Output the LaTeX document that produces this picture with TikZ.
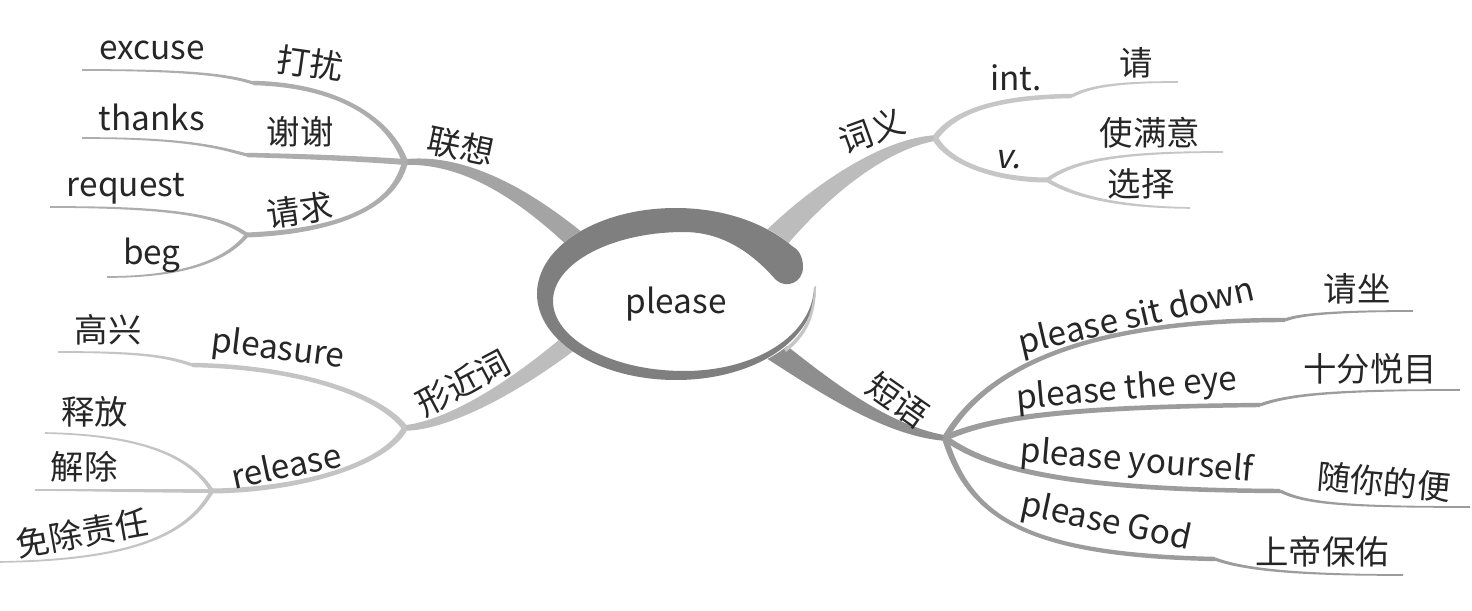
\documentclass[tikz,border=0pt]{standalone}
\usepackage{fontspec}
\setmainfont{Noto Sans CJK SC}[AutoFakeSlant=0.2]
\usetikzlibrary{calc}
\definecolor{txtc}{HTML}{262626}
\definecolor{ringc}{HTML}{7F7F7F}
\definecolor{cam}{HTML}{A4A4A4}
\definecolor{cas}{HTML}{ADADAD}
\definecolor{cbm}{HTML}{BDBDBD}
\definecolor{cbs}{HTML}{C4C4C4}
\definecolor{ccm}{HTML}{BCBCBC}
\definecolor{ccs}{HTML}{C6C6C6}
\definecolor{cdm}{HTML}{8E8E8E}
\definecolor{cds}{HTML}{9C9C9C}
% #1 colour, #2 start, #3 control 1, #4 control 2, #5 end, #6 half width at start (px), #7 half width at end (px)
\newcommand\taper[7]{%
  \pgfmathsetmacro\tpA{#6*0.02}%
  \pgfmathsetmacro\tpB{(2*#6+#7)/3*0.02}%
  \pgfmathsetmacro\tpC{(#6+2*#7)/3*0.02}%
  \pgfmathsetmacro\tpD{#7*0.02}%
  \fill[#1] ($(#2)!\tpA cm!90:(#3)$) .. controls ($(#3)!\tpB cm!-90:(#2)$) and ($(#4)!\tpC cm!90:(#5)$) .. ($(#5)!\tpD cm!-90:(#4)$)
     -- ($(#5)!\tpD cm!90:(#4)$) .. controls ($(#4)!\tpC cm!-90:(#5)$) and ($(#3)!\tpB cm!90:(#2)$) .. ($(#2)!\tpA cm!-90:(#3)$) -- cycle;
}
\tikzset{lbl/.style={font=\fontsize{19}{22}\selectfont, text=txtc, inner sep=0pt}}
\begin{document}
\begin{tikzpicture}[x=0.02cm, y=-0.02cm]
\useasboundingbox (0,0) rectangle (1472,611);
\fill[white] (0,0) rectangle (1472,611);
% ---------- coordinates
\coordinate (J1) at (405,162);
\coordinate (S1) at (253,83);
\coordinate (X1) at (82,70);
\coordinate (S2) at (247,155);
\coordinate (X2) at (82,138);
\coordinate (J2) at (247,235);
\coordinate (X3) at (50,207);
\coordinate (X4) at (107,277);
\coordinate (E1) at (600,262);
\coordinate (J3) at (405,428);
\coordinate (K1) at (192,365);
\coordinate (X5) at (58,352);
\coordinate (K2) at (212,491);
\coordinate (X6) at (45,433);
\coordinate (X7) at (35,490);
\coordinate (X8) at (0,562);
\coordinate (E3) at (585,330);
\coordinate (J5) at (935,138);
\coordinate (S3) at (1072,96);
\coordinate (X9) at (1178,82);
\coordinate (J6) at (1047,180);
\coordinate (X10) at (1223,152);
\coordinate (X11) at (1190,208);
\coordinate (E5) at (770,245);
\coordinate (J4) at (945,438);
\coordinate (S4) at (1285,320);
\coordinate (X12) at (1413,311);
\coordinate (S5) at (1260,405);
\coordinate (X13) at (1460,390);
\coordinate (S6) at (1280,491);
\coordinate (X14) at (1470,507);
\coordinate (S7) at (1215,559);
\coordinate (X15) at (1403,575);
\coordinate (E4) at (760,340);
% ---------- branch: lianxiang
\taper{cam}{E1}{535,200}{470,158}{J1}{11}{2.8}
\taper{cas}{J1}{390,120}{340,85}{S1}{3}{2.2}
\taper{cas}{S1}{225,74}{180,70}{X1}{1.6}{0.8}
\taper{cas}{J1}{350,158}{290,156}{S2}{3}{2.2}
\taper{cas}{S2}{220,148}{190,138}{X2}{1.6}{0.8}
\taper{cas}{J1}{392,215}{320,232}{J2}{3}{2.5}
\taper{cas}{J2}{220,215}{170,207}{X3}{2}{0.8}
\taper{cas}{J2}{225,262}{180,277}{X4}{2}{0.8}
% ---------- branch: xingjinci
\taper{cbm}{E3}{520,385}{450,425}{J3}{9.5}{2.8}
\taper{cbs}{J3}{380,395}{300,367}{K1}{3}{2.2}
\taper{cbs}{K1}{165,355}{130,352}{X5}{1.6}{0.8}
\taper{cbs}{J3}{385,465}{300,490}{K2}{3}{2.5}
\taper{cbs}{K2}{190,455}{140,435}{X6}{2}{0.8}
\taper{cbs}{K2}{150,491}{90,490}{X7}{2}{0.8}
\taper{cbs}{K2}{185,540}{120,560}{X8}{2}{0.8}
% ---------- branch: ciyi
\taper{ccm}{E5}{815,195}{880,145}{J5}{13}{2.8}
\taper{ccs}{J5}{955,110}{1000,97}{S3}{3}{2.2}
\taper{ccs}{S3}{1090,86}{1120,82}{X9}{1.6}{0.8}
\taper{ccs}{J5}{950,165}{1000,180}{J6}{3}{2.5}
\taper{ccs}{J6}{1075,160}{1120,152}{X10}{2}{0.8}
\taper{ccs}{J6}{1080,200}{1130,207}{X11}{2}{0.8}
% ---------- branch: duanyu
\taper{cdm}{E4}{810,375}{880,430}{J4}{12}{2.8}
\taper{cds}{J4}{985,370}{1080,320}{S4}{3}{2.2}
\taper{cds}{S4}{1300,314}{1340,311}{X12}{1.6}{0.8}
\taper{cds}{J4}{990,418}{1060,407}{S5}{3}{2.2}
\taper{cds}{S5}{1290,394}{1340,390}{X13}{1.6}{0.8}
\taper{cds}{J4}{990,470}{1070,490}{S6}{3}{2.2}
\taper{cds}{S6}{1305,503}{1340,507}{X14}{1.6}{0.8}
\taper{cds}{J4}{970,520}{1030,555}{S7}{3}{2.2}
\taper{cds}{S7}{1245,570}{1300,575}{X15}{1.6}{0.8}
% ---------- central ellipse
\fill[white] (816,294) .. controls (816,247) and (753,208) .. (676,208)
  .. controls (599,208) and (537,246) .. (537,294)
  .. controls (537,341) and (599,380) .. (676,380)
  .. controls (753,380) and (816,341) .. (816,294) -- cycle;
\fill[ringc] (792,246) .. controls (764,222) and (721,208) .. (676,208)
  .. controls (599,208) and (537,246) .. (537,294)
  .. controls (537,341) and (599,380) .. (676,380)
  .. controls (753,380) and (816,341) .. (816,286)
  -- (814,288)
  .. controls (812,335) and (756,371) .. (684,371)
  .. controls (612,371) and (553,339) .. (553,301)
  .. controls (553,263) and (612,232) .. (684,232)
  .. controls (730,232) and (760,262) .. (776,280)
  .. controls (786,289) and (803,283) .. (803,267)
  .. controls (803,256) and (798,249) .. (792,246) -- cycle;
\fill[gray!45] (816,286) .. controls (816,320) and (804,338) .. (786,352)
  -- (784,349) .. controls (801,336) and (813,318) .. (814,288) -- cycle;
\node[lbl] (center) at (676,304) {please};
% ---------- labels
\node[lbl] (nexcuse) at (152,50) {excuse};
\node[lbl, rotate=-8] (ndarao) at (310,63) {打扰};
\node[lbl] (nthanks) at (152,117) {thanks};
\node[lbl] (nxiexie) at (300,132) {谢谢};
\node[lbl, rotate=-12] (nlianxiang) at (461,146) {联想};
\node[lbl] (nrequest) at (126,189) {request};
\node[lbl, rotate=8] (nqingqiu) at (300,210) {请求};
\node[lbl] (nbeg) at (152,255) {beg};
\node[lbl] (ngaoxing) at (108,330) {高兴};
\node[lbl, rotate=-7] (npleasure) at (278,350) {pleasure};
\node[lbl, rotate=28] (nxingjinci) at (463,383) {形近词};
\node[lbl] (nshifang) at (95,412) {释放};
\node[lbl, rotate=12] (nrelease) at (286,465) {release};
\node[lbl] (njiechu) at (84,467) {解除};
\node[lbl, rotate=10] (nmianchu) at (82,533) {免除责任};
\node[lbl, rotate=20] (nciyi) at (872,131) {词义};
\node[lbl] (nint) at (1016,78) {int.};
\node[lbl] (nqing) at (1136,63) {请};
\node[lbl] (nv) at (1008,160) {\itshape v.};
\node[lbl] (nshimanyi) at (1150,133) {使满意};
\node[lbl] (nxuanze) at (1141,184) {选择};
\node[lbl, rotate=-35] (nduanyu) at (898,400) {短语};
\node[lbl, rotate=13] (nsit) at (1137,318) {please sit down};
\node[lbl] (nqingzuo) at (1357,289) {请坐};
\node[lbl, rotate=5] (neye) at (1127,390) {please the eye};
\node[lbl] (nyuemu) at (1370,369) {十分悦目};
\node[lbl, rotate=-5] (nyourself) at (1137,462) {please yourself};
\node[lbl, rotate=-5] (nbian) at (1384,482) {随你的便};
\node[lbl, rotate=-12] (ngod) at (1106,523) {please God};
\node[lbl] (nbaoyou) at (1322,552) {上帝保佑};
\end{tikzpicture}
\end{document}
